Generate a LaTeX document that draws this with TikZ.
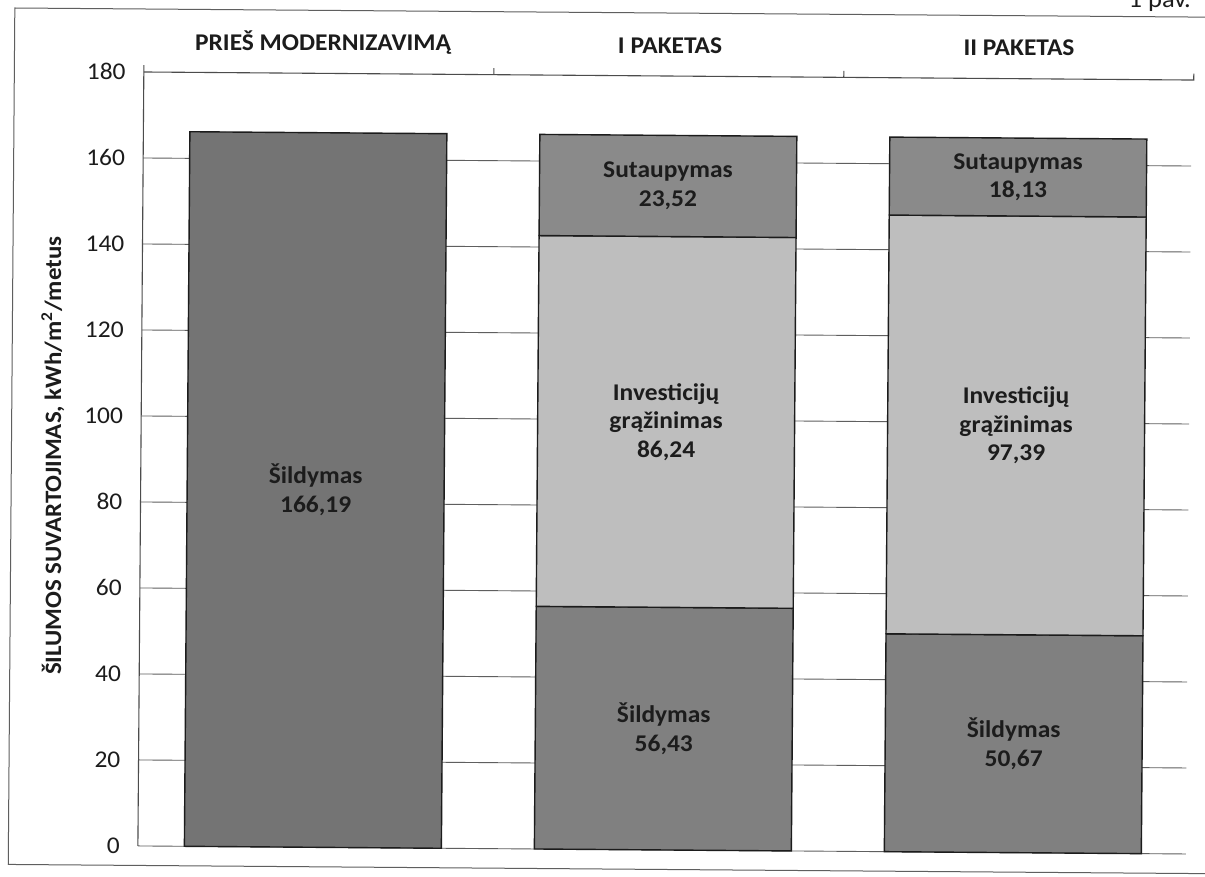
\documentclass[tikz,border=0pt]{standalone}
\usepackage{fontspec}
\setmainfont[FakeStretch=1.06]{Carlito}
\definecolor{heatbar}{RGB}{116,116,116}
\definecolor{heatbartwo}{RGB}{128,128,128}
\definecolor{savebar}{RGB}{138,138,138}
\definecolor{investbar}{RGB}{190,190,190}
\definecolor{inkdark}{RGB}{28,28,28}
\definecolor{gridgray}{RGB}{95,95,95}
\tikzset{
  barline/.style={draw=inkdark, line width=1.4pt},
  gridline/.style={draw=gridgray, line width=0.9pt},
  axisline/.style={draw=gridgray!80!black, line width=1.1pt},
  frameline/.style={draw=gridgray, line width=1pt},
  ticklabel/.style={font=\fontsize{24}{28}\selectfont, text=inkdark, anchor=east, inner sep=0pt},
  catlabel/.style={font=\fontsize{24}{28}\selectfont\bfseries, text=inkdark},
  barlabel/.style={font=\fontsize{24}{28.5}\selectfont\bfseries, text=inkdark, align=center},
}
\begin{document}
\begin{tikzpicture}[x=1pt,y=-1pt]
\clip (0,0) rectangle (1205,877);
\fill[white] (0,0) rectangle (1205,877);
\node[font=\fontsize{25}{29}\selectfont, text=inkdark, anchor=base east, inner sep=0pt] (figno) at (1191,7.5) {1 pav.};
\begin{scope}[rotate around={-0.44:(602,440)}]
  % frame
  \draw[frameline] (1230,12.5) -- (11.5,12.5) -- (11.5,869) -- (1230,869);
  % category labels
  \node[catlabel] (c1) at (320,45) {PRIEŠ MODERNIZAVIMĄ};
  \node[catlabel] (c2) at (667,45) {I PAKETAS};
  \node[catlabel] (c3) at (1016,45) {II PAKETAS};
  % y title
  \node[font=\fontsize{23.5}{27}\selectfont\bfseries, text=inkdark, rotate=90] (ytitle) at (53,460)
    {ŠILUMOS SUVARTOJIMAS, kWh/m\textsuperscript{2}/metus};
  \begin{scope}[shift={(0,849.5)}, y=4.3pt]
    % grid
    \foreach \v in {0,20,...,160} {
      \draw[gridline] (141,\v) -- (1189,\v);
      \node[ticklabel] (t\v) at (123,\v) {\v};
    }
    \node[ticklabel] (t180) at (123,180) {180};
    \draw[axisline] (141,0) -- (141,181.6);
    \draw[axisline] (141,180) -- (1191,180) -- (1191,181.5);
    \draw[axisline] (491,180) -- (491,181.5);
    \draw[axisline] (841,180) -- (841,181.5);
    % bar 1
    \draw[barline, fill=heatbar] (187.5,0) rectangle (444.5,166.19);
    \node[barlabel] (b1h) at (316,83.1) {Šildymas\\166,19};
    % bar 2
    \draw[barline, fill=heatbartwo] (537.5,0) rectangle (794.5,56.43);
    \draw[barline, fill=investbar] (537.5,56.43) rectangle (794.5,142.67);
    \draw[barline, fill=savebar] (537.5,142.67) rectangle (794.5,166.19);
    \node[barlabel] (b2h) at (666,28.2) {Šildymas\\56,43};
    \node[barlabel] (b2i) at (666,99.55) {Investicijų\\grąžinimas\\86,24};
    \node[barlabel] (b2s) at (666,154.43) {Sutaupymas\\23,52};
    % bar 3
    \draw[barline, fill=heatbartwo] (887.5,0) rectangle (1144.5,50.67);
    \draw[barline, fill=investbar] (887.5,50.67) rectangle (1144.5,148.06);
    \draw[barline, fill=savebar] (887.5,148.06) rectangle (1144.5,166.19);
    \node[barlabel] (b3h) at (1016,25.3) {Šildymas\\50,67};
    \node[barlabel] (b3i) at (1016,99.37) {Investicijų\\grąžinimas\\97,39};
    \node[barlabel] (b3s) at (1016,157.1) {Sutaupymas\\18,13};
  \end{scope}
\end{scope}
\end{tikzpicture}
\end{document}
